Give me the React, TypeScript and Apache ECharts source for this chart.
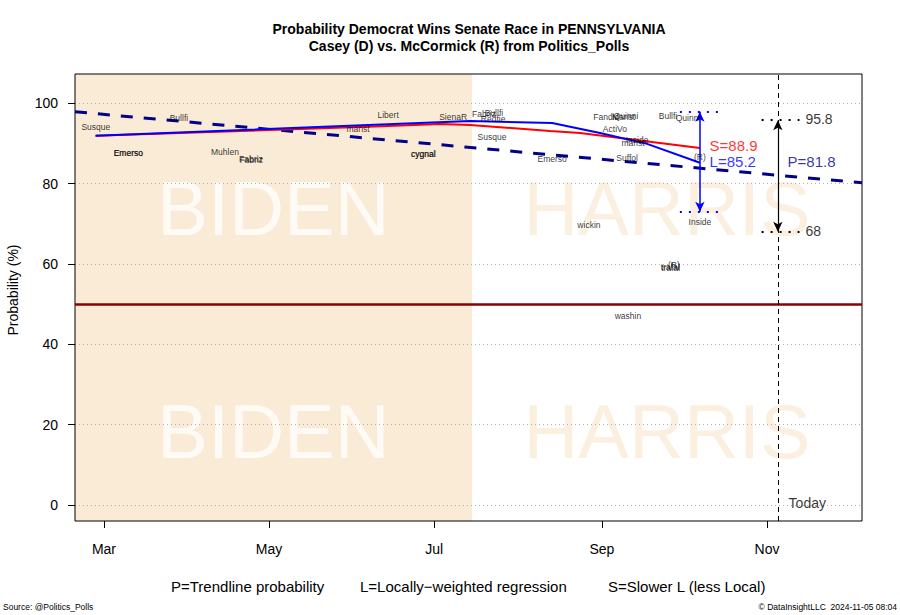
import React, { useEffect, useRef } from "react";
import * as echarts from "echarts";

// ---- axis / tick data (day 0 = 1 Mar 2024) ----
const monthTickDays = [0, 61, 122, 184, 245];
const monthTickLabels = ["Mar", "May", "Jul", "Sep", "Nov"];
const yTicks = [0, 20, 40, 60, 80, 100];
const xMin = -10.7;
const xMax = 280.1;
const yMin = -4;
const yMax = 107.3;

// ---- polls ----
const pollNames = [
  "Susque", "Bullfi", "Emerso", "Emerso", "Muhlen", "Fabriz", "Fabriz", "marist",
  "Libert", "cygnal", "cygnal", "SienaR", "Fabriz", "Bullfi", "Redfie", "Susque",
  "Emerso", "wickin", "Fandic", "Quinni", "Marist", "ActiVo", "Inside", "marist",
  "Suffol", "Bullfi", "Quinni", "(R)", "Inside", "trafal", "trafal", "(R)", "washin",
];
const pollDays = [
  -3.0, 27.7, 8.9, 9.1, 44.7, 54.3, 54.5, 93.9,
  105.0, 117.9, 118.1, 129.0, 140.4, 144.1, 143.8, 143.4,
  165.6, 179.2, 185.5, 192.9, 192.0, 188.8, 197.0, 195.5,
  193.3, 208.4, 215.8, 220.2, 220.2, 209.2, 209.4, 210.6, 193.6,
];
const pollValues = [
  94.1, 96.4, 87.6, 87.6, 87.9, 86.1, 86.0, 93.6,
  97.1, 87.4, 87.3, 96.6, 97.3, 97.5, 96.2, 91.6,
  86.1, 69.7, 96.6, 96.8, 96.6, 93.6, 90.9, 90.1,
  86.4, 96.8, 96.3, 86.6, 70.4, 59.2, 59.0, 59.7, 47.0,
];

// ---- trend lines ----
const trendDays = [-10.7, 280.1];
const trendValues = [97.9, 80.2];
const localDays = [-3.1, 135.3, 165.6, 183.3, 200.7, 220.2];
const localValues = [91.9, 95.6, 95.1, 92.6, 89.9, 85.2];
const slowDays = [-3.1, 100.1, 124.2, 135.3, 164.8, 175.9, 220.2];
const slowValues = [91.9, 94.2, 94.85, 94.6, 93.1, 92.6, 88.9];

// ---- annotations ----
const bidenEndDay = 136;
const todayDay = 249;
const lastDay = 220.2;
const localRangeHigh = 97.9;
const localRangeLow = 73.0;
const todayRangeHigh = 95.8;
const todayRangeLow = 68;
const finalP = 81.8;
const finalL = 85.2;
const finalS = 88.9;
const watermarkRows = [73.9, 18.2];

const FONT = "'Liberation Sans', Arial, Helvetica, sans-serif";
const NAVY = "#00008B";
const CLEAR = "rgba(0,0,0,0)";

function zip(a: number[], b: number[]) {
  return a.map((v, i) => [v, b[i]]);
}

function buildOption(): any {
  const bidenCenter = (xMin + bidenEndDay) / 2;
  const harrisCenter = (bidenEndDay + xMax) / 2;

  const watermarkData: any[] = [];
  watermarkRows.forEach((r) => {
    watermarkData.push({ value: [bidenCenter, r, "BIDEN"], label: { color: "#FFFFFF" } });
    watermarkData.push({ value: [harrisCenter, r, "HARRIS"], label: { color: "#FAEBD7" } });
  });

  const textPt = (x: number, y: number, text: string, color: string, size: number) => ({
    value: [x, y, text],
    label: { color, fontSize: size },
  });

  const plainLabel = { textBorderWidth: 0, textBorderColor: CLEAR, textShadowBlur: 0 };

  return {
    animation: false,
    backgroundColor: "#FFFFFF",
    textStyle: { fontFamily: FONT },
    grid: {
      left: 75,
      right: 38,
      top: 74,
      bottom: 94,
      show: true,
      borderColor: "#000",
      borderWidth: 1,
      backgroundColor: "transparent",
      z: 2,
    },
    xAxis: {
      type: "value",
      min: xMin,
      max: xMax,
      axisLine: { show: false, onZero: false },
      splitLine: { show: false },
      axisTick: {
        show: true,
        customValues: monthTickDays,
        length: 7,
        inside: false,
        lineStyle: { color: "#000", width: 1 },
      },
      axisLabel: {
        customValues: monthTickDays,
        formatter: (v: number) => {
          const i = monthTickDays.indexOf(Math.round(v));
          return i >= 0 ? monthTickLabels[i] : "";
        },
        fontSize: 14,
        color: "#000",
        margin: 21,
        fontFamily: FONT,
      },
    },
    yAxis: {
      type: "value",
      min: yMin,
      max: yMax,
      axisLine: { show: false, onZero: false },
      splitLine: { show: false },
      axisTick: {
        show: true,
        customValues: yTicks,
        length: 7,
        inside: false,
        lineStyle: { color: "#000", width: 1 },
      },
      axisLabel: {
        customValues: yTicks,
        fontSize: 14,
        color: "#000",
        margin: 17,
        fontFamily: FONT,
      },
    },
    graphic: [
      {
        type: "text",
        x: 469,
        y: 29,
        style: {
          text: "Probability Democrat Wins Senate Race in PENNSYLVANIA",
          font: `bold 14px ${FONT}`,
          fill: "#000",
          textAlign: "center",
          textVerticalAlign: "middle",
        },
      },
      {
        type: "text",
        x: 469,
        y: 46,
        style: {
          text: "Casey (D) vs. McCormick (R) from Politics_Polls",
          font: `bold 14px ${FONT}`,
          fill: "#000",
          textAlign: "center",
          textVerticalAlign: "middle",
        },
      },
      {
        type: "text",
        x: 13,
        y: 290,
        rotation: Math.PI / 2,
        style: {
          text: "Probability (%)",
          font: `14px ${FONT}`,
          fill: "#000",
          textAlign: "center",
          textVerticalAlign: "middle",
        },
      },
      {
        type: "text",
        x: 171,
        y: 586,
        style: { text: "P=Trendline probability", font: `15px ${FONT}`, fill: "#000", textVerticalAlign: "middle" },
      },
      {
        type: "text",
        x: 360,
        y: 586,
        style: { text: "L=Locally\u2212weighted regression", font: `15px ${FONT}`, fill: "#000", textVerticalAlign: "middle" },
      },
      {
        type: "text",
        x: 608,
        y: 586,
        style: { text: "S=Slower L (less Local)", font: `15px ${FONT}`, fill: "#000", textVerticalAlign: "middle" },
      },
      {
        type: "text",
        x: 3,
        y: 607,
        style: { text: "Source: @Politics_Polls", font: `8.5px ${FONT}`, fill: "#000", textVerticalAlign: "middle" },
      },
      {
        type: "text",
        x: 897,
        y: 607,
        style: {
          text: "\u00A9 DataInsightLLC  2024-11-05 08:04",
          font: `8.5px ${FONT}`,
          fill: "#000",
          textAlign: "right",
          textVerticalAlign: "middle",
        },
      },
    ],
    series: [
      // tan Biden-era background
      {
        type: "line",
        data: [],
        z: -5,
        silent: true,
        markArea: {
          silent: true,
          z: -5,
          itemStyle: { color: "#FAEBD7" },
          data: [[{ xAxis: xMin }, { xAxis: bidenEndDay }]],
        },
      },
      // watermarks
      {
        type: "scatter",
        z: -4,
        silent: true,
        symbolSize: 1,
        itemStyle: { color: CLEAR },
        data: watermarkData,
        label: {
          show: true,
          position: "inside",
          formatter: (p: any) => p.value[2],
          fontSize: 76,
          fontFamily: FONT,
          ...plainLabel,
        },
      },
      // dotted grid lines
      {
        type: "line",
        data: [],
        z: -3,
        silent: true,
        markLine: {
          silent: true,
          z: -3,
          symbol: ["none", "none"],
          label: { show: false },
          lineStyle: { color: "#B0B0B0", width: 1, type: [1, 3] },
          data: yTicks.map((v) => ({ yAxis: v })),
        },
      },
      // 50% line
      {
        type: "line",
        data: [],
        silent: true,
        markLine: {
          silent: true,
          symbol: ["none", "none"],
          label: { show: false },
          lineStyle: { color: "#8B0000", width: 2.5, type: "solid" },
          data: [{ yAxis: 50 }],
        },
      },
      // today line
      {
        type: "line",
        data: [],
        silent: true,
        markLine: {
          silent: true,
          symbol: ["none", "none"],
          label: { show: false },
          lineStyle: { color: "#000", width: 1, type: [5, 4] },
          data: [{ xAxis: todayDay }],
        },
      },
      // P trend
      {
        type: "line",
        data: zip(trendDays, trendValues),
        symbol: "none",
        lineStyle: { color: NAVY, width: 3, type: [12, 11] },
        z: 3,
      },
      // S (slow)
      {
        type: "line",
        data: zip(slowDays, slowValues),
        symbol: "none",
        lineStyle: { color: "#FF0000", width: 2 },
        z: 4,
      },
      // L (local)
      {
        type: "line",
        data: zip(localDays, localValues),
        symbol: "none",
        lineStyle: { color: "#0000FF", width: 2 },
        z: 5,
      },
      // blue range arrow
      {
        type: "line",
        data: [],
        silent: true,
        markLine: {
          silent: true,
          symbol: ["arrow", "arrow"],
          symbolSize: [7, 10],
          label: { show: false },
          lineStyle: { color: "#0000FF", width: 1.5, type: "solid" },
          data: [[{ coord: [lastDay, localRangeLow] }, { coord: [lastDay, localRangeHigh] }]],
        },
      },
      // blue dotted range ends
      {
        type: "line",
        data: [],
        silent: true,
        markLine: {
          silent: true,
          symbol: ["none", "none"],
          label: { show: false },
          lineStyle: { color: "#0000FF", width: 2, type: [2, 7] },
          data: [
            [{ coord: [lastDay - 7.4, localRangeHigh] }, { coord: [lastDay + 7.4, localRangeHigh] }],
            [{ coord: [lastDay - 7.4, localRangeLow] }, { coord: [lastDay + 7.4, localRangeLow] }],
          ],
        },
      },
      // black range arrow at today
      {
        type: "line",
        data: [],
        silent: true,
        markLine: {
          silent: true,
          symbol: ["arrow", "arrow"],
          symbolSize: [7, 10],
          label: { show: false },
          lineStyle: { color: "#000", width: 1.2, type: "solid" },
          data: [[{ coord: [todayDay, todayRangeLow] }, { coord: [todayDay, todayRangeHigh] }]],
        },
      },
      // black dotted range ends
      {
        type: "line",
        data: [],
        silent: true,
        markLine: {
          silent: true,
          symbol: ["none", "none"],
          label: { show: false },
          lineStyle: { color: "#000", width: 2, type: [2, 7] },
          data: [
            [{ coord: [todayDay - 6, todayRangeHigh] }, { coord: [todayDay + 8, todayRangeHigh] }],
            [{ coord: [todayDay - 6, todayRangeLow] }, { coord: [todayDay + 8, todayRangeLow] }],
          ],
        },
      },
      // poll labels
      {
        type: "scatter",
        z: 6,
        silent: true,
        symbolSize: 1,
        itemStyle: { color: CLEAR },
        data: pollDays.map((d, i) => [d, pollValues[i], pollNames[i]]),
        label: {
          show: true,
          position: "inside",
          formatter: (p: any) => p.value[2],
          fontSize: 8.5,
          color: "#000",
          fontFamily: FONT,
          ...plainLabel,
        },
      },
      // value annotations
      {
        type: "scatter",
        z: 7,
        silent: true,
        symbolSize: 1,
        itemStyle: { color: CLEAR },
        data: [
          textPt(lastDay + 3.4, finalS + 0.7, `S=${finalS}`, "#FF0000", 15),
          textPt(lastDay + 3.4, finalL + 0.4, `L=${finalL}`, "#0000FF", 15),
          textPt(todayDay + 3.4, finalP + 3.7, `P=${finalP}`, NAVY, 15),
          textPt(todayDay + 10, todayRangeHigh + 0.3, `${todayRangeHigh}`, "#000", 14),
          textPt(todayDay + 10, todayRangeLow + 0.2, `${todayRangeLow}`, "#000", 14),
          textPt(todayDay + 3.8, 0.5, "Today", "#000", 14),
        ],
        label: {
          show: true,
          position: "right",
          distance: 0,
          formatter: (p: any) => p.value[2],
          fontFamily: FONT,
          ...plainLabel,
        },
      },
    ],
  };
}

export default function App() {
  const ref = useRef<HTMLDivElement>(null);
  useEffect(() => {
    if (!ref.current) return;
    const chart = echarts.init(ref.current, null, { renderer: "svg" });
    chart.setOption(buildOption());
    return () => chart.dispose();
  }, []);
  return (
    <div
      ref={ref}
      style={{ position: "fixed", left: 0, top: 0, width: 900, height: 615, background: "#fff" }}
    />
  );
}
